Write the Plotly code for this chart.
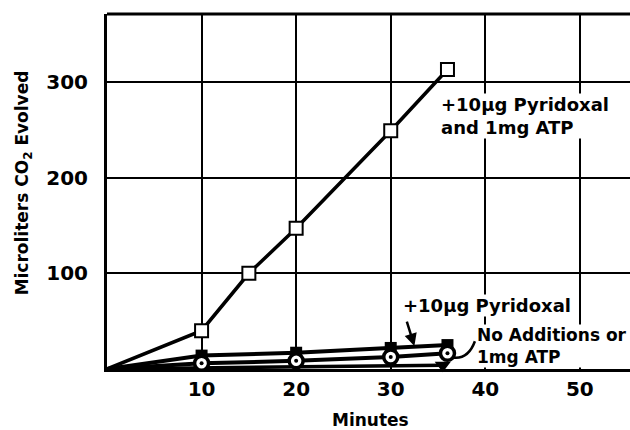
import plotly.graph_objects as go

# Data (minutes vs microliters CO2 evolved)
pyr_atp_x = [0, 10, 15, 20, 30, 36]
pyr_atp_y = [0, 40, 100, 147, 249, 313]

pyr_x = [0, 10, 20, 30, 36]
pyr_y = [0, 14, 17, 22, 25]

noadd_x = [0, 10, 20, 30, 36]
noadd_y = [0, 6, 8.5, 12.5, 16.5]

atp_x = [0, 35.5]
atp_y = [0, 4]

x_ticks = [10, 20, 30, 40, 50]
y_ticks = [100, 200, 300]

FONT = "DejaVu Sans"
fig = go.Figure()

def line_trace(x, y, w):
    return go.Scatter(x=x, y=y, mode="lines", line=dict(color="black", width=w),
                      showlegend=False, cliponaxis=False, hoverinfo="skip")

def mark_trace(x, y, **m):
    return go.Scatter(x=x, y=y, mode="markers", marker=dict(opacity=1, **m),
                      showlegend=False, cliponaxis=False)

fig.add_trace(line_trace(atp_x, atp_y, 3.5))
fig.add_trace(line_trace(pyr_x, pyr_y, 4))
fig.add_trace(line_trace(noadd_x, noadd_y, 4))
fig.add_trace(line_trace(pyr_atp_x, pyr_atp_y, 3.5))

fig.add_trace(mark_trace(atp_x[1:], atp_y[1:], symbol="triangle-down", size=14, color="black"))
fig.add_trace(mark_trace(pyr_x[1:], pyr_y[1:], symbol="square", size=12, color="black"))
fig.add_trace(mark_trace(noadd_x[1:], noadd_y[1:], symbol="circle", size=14, color="white",
                         line=dict(color="black", width=3.5)))
fig.add_trace(mark_trace(noadd_x[1:], noadd_y[1:], symbol="circle", size=4, color="black"))
fig.add_trace(mark_trace(pyr_atp_x[1:], pyr_atp_y[1:], symbol="square", size=13, color="white",
                         line=dict(color="black", width=2)))

tf = dict(family=FONT, size=18, color="black", weight="bold")
tf2 = dict(family=FONT, size=17, color="black", weight="bold")

fig.add_annotation(x=35.2, y=264, xref="x", yref="y", xanchor="left", yanchor="middle",
    text="+10µg Pyridoxal<br>and 1mg ATP", showarrow=False, align="left",
    font=tf, bgcolor="white", borderpad=0)
fig.add_annotation(x=31.2, y=66, xref="x", yref="y", xanchor="left", yanchor="middle",
    text="+10µg Pyridoxal", showarrow=False, align="left",
    font=tf, bgcolor="white", borderpad=0)
fig.add_annotation(x=39.0, y=24, xref="x", yref="y", xanchor="left", yanchor="middle",
    text="No Additions or<br>1mg ATP", showarrow=False, align="left",
    font=tf2, bgcolor="white", borderpad=0)
# arrow to pyridoxal line
fig.add_annotation(x=32.5, y=24, xref="x", yref="y", ax=-8, ay=-26,
    text="", showarrow=True, arrowhead=2, arrowsize=1, arrowwidth=2.5, arrowcolor="black")
# curved pointer to no-additions
fig.add_shape(type="path", xref="x", yref="y",
    path="M 38.9 29 Q 38.2 10 36.6 12", line=dict(color="black", width=2.5))

fig.add_annotation(x=-0.185, y=0.525, xref="paper", yref="paper",
    text="Microliters CO<sub>2</sub> Evolved", textangle=-90, showarrow=False,
    font=dict(family=FONT, size=17, color="black", weight="bold"))
fig.add_annotation(x=0.503, y=-0.143, xref="paper", yref="paper", yanchor="middle",
    text="Minutes", showarrow=False,
    font=dict(family=FONT, size=17, color="black", weight="bold"))

fig.update_xaxes(range=[0, 55.3], tickvals=x_ticks, ticktext=[str(v) for v in x_ticks],
    showgrid=True, gridcolor="black", gridwidth=2, zeroline=False,
    showline=True, linecolor="black", linewidth=3, mirror=False,
    tickfont=dict(family=FONT, size=20, color="black", weight="bold"),
    ticks="", ticklabelstandoff=0)
fig.update_yaxes(range=[0, 371], tickvals=y_ticks, ticktext=[str(v) for v in y_ticks],
    showgrid=True, gridcolor="black", gridwidth=2, zeroline=False,
    showline=True, linecolor="black", linewidth=3,
    tickfont=dict(family=FONT, size=20, color="black", weight="bold"),
    ticks="", ticklabelstandoff=12)

fig.add_shape(type="line", xref="paper", yref="paper", x0=0, x1=1, y0=1, y1=1,
    line=dict(color="black", width=3))

fig.update_layout(width=630, height=430, margin=dict(l=107, r=0, t=14, b=61),
    plot_bgcolor="white", paper_bgcolor="white")

fig.write_html("out.html", config={"displayModeBar": False},
               post_script="document.body.style.margin='0';document.body.style.overflow='hidden';")
